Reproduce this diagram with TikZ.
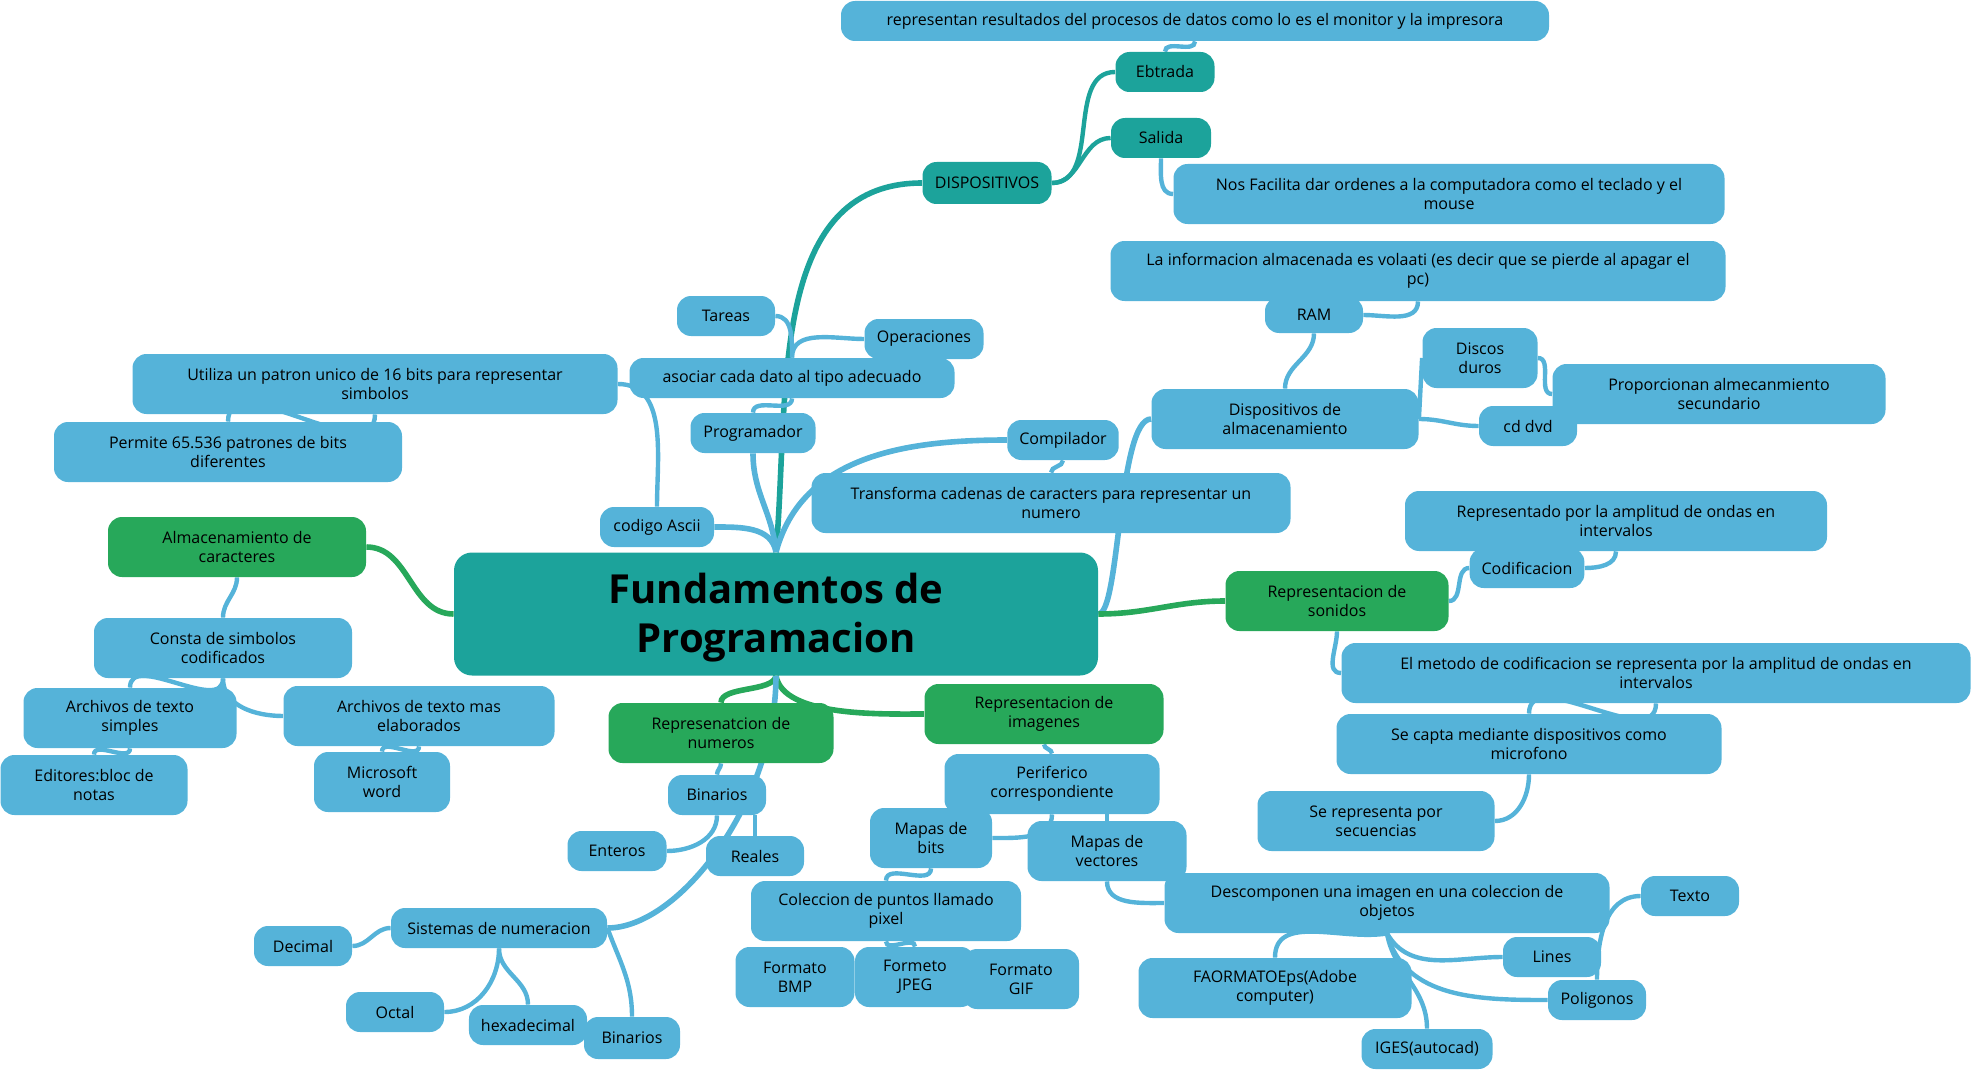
\documentclass[tikz,border=0pt]{standalone}
\usepackage{fontspec}
\setmainfont{Open Sans}
\usepackage{xcolor}
\usetikzlibrary{backgrounds}
\definecolor{mapblue}{HTML}{55B3D9}
\definecolor{mapteal}{HTML}{1CA39B}
\definecolor{mapgreen}{HTML}{27A85A}

\begin{document}
\begin{tikzpicture}[x=0.5pt, y=0.5pt,
		topic/.style={rectangle, rounded corners=7pt, minimum height=20pt, inner xsep=6pt,
				inner ysep=3pt, align=center, text=black, font=\fontsize{8}{9.5}\selectfont},
		bluebox/.style={topic, fill=mapblue},
		tealbox/.style={topic, fill=mapteal},
		greenbox/.style={topic, fill=mapgreen},
		rootbox/.style={topic, fill=mapteal, rounded corners=9pt,
				font=\bfseries\fontsize{20}{24.5}\selectfont},
		wd/.style={minimum width=#1*0.5pt},
		two/.style={minimum height=30pt},
		bl/.style={draw=mapblue, line width=2.2pt},
		tl/.style={draw=mapteal, line width=2.2pt},
		gl/.style={draw=mapgreen, line width=2.2pt},
		rl/.style={line width=2.8pt},
	]
	\useasboundingbox (0,0) rectangle (1972,-1070);
	\node[rootbox, wd=644, minimum height=61.5pt] (root) at (776,-614) {\rule{0pt}{19pt}Fundamentos de\\Programacion};
	% dispositivos
	\node[tealbox, wd=129, minimum height=21pt] (disp) at (987,-183) {DISPOSITIVOS};
	\node[bluebox, wd=708] (salres) at (1195,-21) {representan resultados del procesos de datos como lo es el monitor y la impresora};
	\node[tealbox, wd=99]  (ebtrada) at (1165,-72) {Ebtrada};
	\node[tealbox, wd=100] (salida)  at (1161,-138) {Salida};
	\node[bluebox, two, wd=551] (entdesc) at (1449,-194) {Nos Facilita dar ordenes a la computadora como el teclado y el\\mouse};
	% programador
	\node[bluebox, wd=98]  (tareas)  at (726,-316) {Tareas};
	\node[bluebox, wd=119] (operac)  at (924,-339) {Operaciones};
	\node[bluebox, wd=325] (asociar) at (792,-378) {asociar cada dato al tipo adecuado};
	\node[bluebox, wd=125] (prog)    at (753,-433) {Programador};
	% codigo ascii
	\node[bluebox, two, wd=485] (utiliza) at (375,-384) {Utiliza un patron unico de 16 bits para representar\\simbolos};
	\node[bluebox, two, wd=348] (permite) at (228,-452) {Permite 65.536 patrones de bits\\diferentes};
	\node[bluebox, wd=114] (ascii) at (657,-527) {codigo Ascii};
	% compilador
	\node[bluebox, wd=109] (compil) at (1063,-440) {Compilador};
	\node[bluebox, two, wd=479] (transf) at (1051,-503) {Transforma cadenas de caracters para representar un\\numero};
	% almacenamiento
	\node[bluebox, two, wd=615] (ramdesc) at (1418,-271) {La informacion almacenada es volaati (es decir que se pierde al apagar el\\pc)};
	\node[bluebox, wd=98, minimum height=18pt] (ram) at (1314,-315) {RAM};
	\node[bluebox, two, wd=267] (almac)   at (1285,-419) {Dispositivos de\\almacenamiento};
	\node[bluebox, two, wd=115] (discos)  at (1480,-358) {Discos\\duros};
	\node[bluebox, two, wd=333] (proporc) at (1719,-394) {Proporcionan almecanmiento\\secundario};
	\node[bluebox, wd=98] (cddvd) at (1528,-426) {cd dvd};
	% caracteres
	\node[greenbox, two, wd=258] (almcar)   at (237,-547) {Almacenamiento de\\caracteres};
	\node[bluebox, two, wd=258]  (consta)   at (223,-648) {Consta de simbolos\\codificados};
	\node[bluebox, two, wd=213]  (simples)  at (130,-718) {Archivos de texto\\simples};
	\node[bluebox, two, wd=271]  (elabor)   at (419,-716) {Archivos de texto mas\\elaborados};
	\node[bluebox, two, wd=187]  (editores) at (94,-785) {Editores:bloc de\\notas};
	\node[bluebox, two, wd=136]  (word)     at (382,-782) {Microsoft\\word};
	% sonidos
	\node[bluebox, two, wd=422]  (ondas)   at (1616,-521) {Representado por la amplitud de ondas en\\intervalos};
	\node[bluebox, wd=113]       (codif)   at (1527,-568) {Codificacion};
	\node[greenbox, two, wd=223] (sonidos) at (1337,-601) {Representacion de\\sonidos};
	\node[bluebox, two, wd=629]  (metodo)  at (1656,-673) {El metodo de codificacion se representa por la amplitud de ondas en\\intervalos};
	\node[bluebox, two, wd=385]  (capta)   at (1529,-744) {Se capta mediante dispositivos como\\microfono};
	\node[bluebox, two, wd=237]  (secuen)  at (1376,-821) {Se representa por\\secuencias};
	% numeros
	\node[greenbox, two, wd=225] (numeros)  at (721,-733) {Represenatcion de\\numeros};
	\node[bluebox, wd=98]  (binnum)   at (717,-795) {Binarios};
	\node[bluebox, wd=99]  (enteros)  at (617,-851) {Enteros};
	\node[bluebox, wd=98]  (reales)   at (755,-856) {Reales};
	\node[bluebox, wd=216] (sistemas) at (499,-928) {Sistemas de numeracion};
	\node[bluebox, wd=98]  (decimal)  at (303,-946) {Decimal};
	\node[bluebox, wd=98]  (octal)    at (395,-1012) {Octal};
	\node[bluebox, wd=118] (hexa)     at (528,-1025) {hexadecimal};
	\node[bluebox, wd=96, minimum height=21pt] (binsis) at (632,-1038) {Binarios};
	% imagenes
	\node[greenbox, two, wd=239] (imagenes) at (1044,-714) {Representacion de\\imagenes};
	\node[bluebox, two, wd=215] (perif)   at (1052,-784) {Periferico\\correspondiente};
	\node[bluebox, two, wd=122] (mbits)   at (931,-838) {Mapas de\\bits};
	\node[bluebox, two, wd=159] (mvect)   at (1107,-851) {Mapas de\\vectores};
	\node[bluebox, two, wd=270] (pixel)   at (886,-911) {Coleccion de puntos llamado\\pixel};
	\node[bluebox, two, wd=119] (bmp)     at (795,-977) {Formato\\BMP};
	\node[bluebox, two, wd=120] (jpeg)    at (915,-977) {Formeto\\JPEG};
	\node[bluebox, two, wd=116] (gif)     at (1021,-979) {Formato\\GIF};
	\node[bluebox, two, wd=445] (descomp) at (1387,-903) {Descomponen una imagen en una coleccion de\\objetos};
	\node[bluebox, wd=98]  (texto)     at (1690,-896) {Texto};
	\node[bluebox, wd=98]  (lines)     at (1552,-957) {Lines};
	\node[bluebox, two, wd=273] (eps)  at (1275,-988) {FAORMATOEps(Adobe\\computer)};
	\node[bluebox, wd=98]  (poligonos) at (1597,-1000) {Poligonos};
	\node[bluebox, wd=131] (iges)      at (1427,-1049) {IGES(autocad)};

	\begin{scope}[on background layer]
		% ramas principales
		\draw[tl, rl] (root.north) to[out=85, in=180] (disp.west);
		\draw[bl, rl] (root.north) to[out=95, in=-90] (prog.south);
		\draw[bl, rl] (root.north) to[out=100, in=0] (ascii.east);
		\draw[bl, rl] (root.north) to[out=75, in=180] (compil.west);
		\draw[bl, rl] (root.east) .. controls (1120,-614) and (1118,-419) .. (almac.west);
		\draw[gl, rl] (root.east) to[out=0, in=180] (sonidos.west);
		\draw[gl, rl] (root.west) to[out=180, in=0] (almcar.east);
		\draw[gl, rl] (root.south) to[out=-100, in=90, looseness=0.7] (numeros.north);
		\draw[gl, rl] (root.south) to[out=-80, in=180, looseness=0.7] (imagenes.west);
		\draw[bl, rl] (root.south) .. controls (776,-800) and (680,-928) .. (sistemas.east);
		% dispositivos
		\draw[tl] (disp.east) to[out=0, in=180] (ebtrada.west);
		\draw[tl] (disp.east) to[out=0, in=180] (salida.west);
		\draw[bl] (ebtrada.north) to[out=90, in=-90] (salres.south);
		\draw[bl] (salida.south) to[out=-90, in=180] (entdesc.west);
		% programador
		\draw[bl] (prog.north) to[out=90, in=-90] (asociar.south);
		\draw[bl] (asociar.north) to[out=90, in=0] (tareas.east);
		\draw[bl] (asociar.north) to[out=90, in=180] (operac.west);
		\draw[bl] (ascii.north) to[out=90, in=0] (utiliza.east);
		\draw[bl] (utiliza.south) to[out=-90, in=90] (permite.north);
		\draw[bl] (compil.south) to[out=-90, in=90] (transf.north);
		% almacenamiento
		\draw[bl] (almac.north) to[out=90, in=-90] (ram.south);
		\draw[bl] (ram.east) to[out=0, in=-90] (ramdesc.south);
		\draw[bl] (almac.east) -- (discos.west);
		\draw[bl] (almac.east) to[out=0, in=180] (cddvd.west);
		\draw[bl] (discos.east) to[out=0, in=180] (proporc.west);
		% caracteres
		\draw[bl] (almcar.south) to[out=-90, in=90] (consta.north);
		\draw[bl] (consta.south) to[out=-90, in=90] (simples.north);
		\draw[bl] (consta.south) to[out=-90, in=180] (elabor.west);
		\draw[bl] (simples.south) to[out=-90, in=90] (editores.north);
		\draw[bl] (elabor.south) to[out=-90, in=90] (word.north);
		% sonidos
		\draw[bl] (sonidos.east) to[out=0, in=180] (codif.west);
		\draw[bl] (codif.east) to[out=0, in=-90] (ondas.south);
		\draw[bl] (sonidos.south) to[out=-90, in=180] (metodo.west);
		\draw[bl] (metodo.south) to[out=-90, in=90] (capta.north);
		\draw[bl] (capta.south) to[out=-90, in=0] (secuen.east);
		% numeros
		\draw[bl] (numeros.south) to[out=-90, in=90] (binnum.north);
		\draw[bl] (binnum.south) to[out=-90, in=0] (enteros.east);
		\draw[bl] (binnum.south -| reales.north) -- (reales.north);
		\draw[bl] (sistemas.west) to[out=180, in=0] (decimal.east);
		\draw[bl] (sistemas.south) to[out=-90, in=0] (octal.east);
		\draw[bl] (sistemas.south) to[out=-90, in=90] (hexa.north);
		\draw[bl] (sistemas.east) to[out=-70, in=90] (binsis.north);
		% imagenes
		\draw[bl] (imagenes.south) to[out=-90, in=90] (perif.north);
		\draw[bl] (perif.south) to[out=-90, in=0] (mbits.east);
		\draw[bl] (perif.south -| mvect.north) -- (mvect.north);
		\draw[bl] (mbits.south) to[out=-90, in=90] (pixel.north);
		\draw[bl] (pixel.south) to[out=-90, in=90] (jpeg.north);
		\draw[bl] (mvect.south) to[out=-90, in=180] (descomp.west);
		\draw[bl] (descomp.south) to[out=-60, in=180] (lines.west);
		\draw[bl] (descomp.south) to[out=-75, in=180] (poligonos.west);
		\draw[bl] (descomp.south) to[out=190, in=90] (eps.north);
		\draw[bl] (descomp.south) to[out=-80, in=90] (iges.north);
		\draw[bl] (poligonos.north) to[out=90, in=180] (texto.west);
	\end{scope}
\end{tikzpicture}
\end{document}
